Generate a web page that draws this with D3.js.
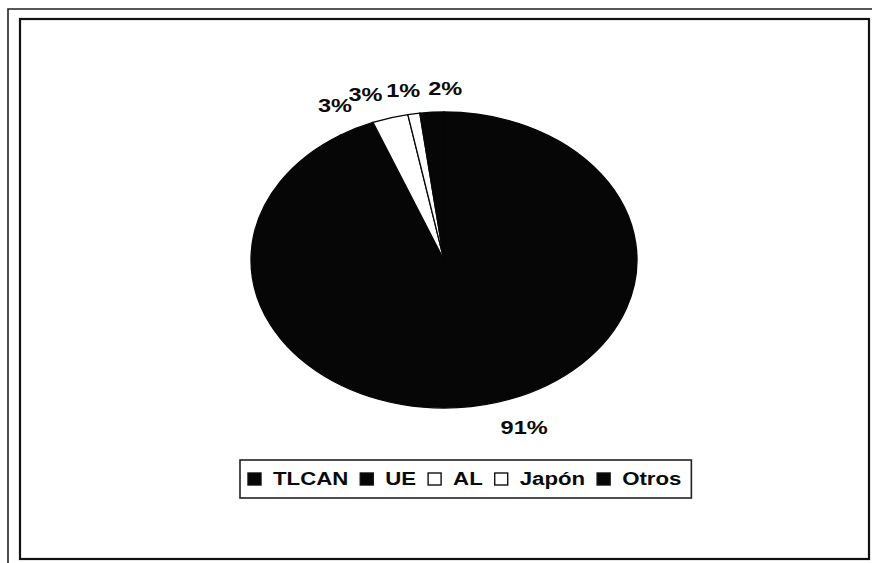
<!DOCTYPE html>
<html>
<head>
<meta charset="utf-8">
<script src="https://cdn.jsdelivr.net/npm/d3@7"></script>
<style>
  html, body { margin: 0; padding: 0; background: #fff; }
  svg { display: block; }
  text { font-family: "Liberation Sans", Arial, sans-serif; font-weight: bold; fill: #0a0a0a; }
</style>
</head>
<body>
<script>
// Destino de las exportaciones (participación %)
const categories = ["TLCAN", "UE", "AL", "Japón", "Otros"];
const shares = [91, 3, 3, 1, 2];
const shareLabels = ["91%", "3%", "3%", "1%", "2%"];

// Presentation
const sliceFill = ["#060606", "#060606", "#ffffff", "#ffffff", "#060606"];
const labelNudge = [0, 0, -5, 8, -3];

const W = 872, H = 563;
const cx = 444, cy = 260, rx = 193, ry = 148;
const textStretch = 1.24;

const svg = d3.select("body").append("svg")
  .attr("width", W).attr("height", H);

// outer sheet line and chart frame
svg.append("path")
  .attr("d", d3.line()([[8, H], [8, 9], [W, 9]]))
  .attr("fill", "none").attr("stroke", "#222").attr("stroke-width", 1.6);
svg.append("rect")
  .attr("x", 20).attr("y", 19).attr("width", 849).attr("height", 540)
  .attr("fill", "#fff").attr("stroke", "#111").attr("stroke-width", 2.2);

// pie, drawn as an ellipse
const pie = d3.pie().sort(null).value(d => d);
const arcs = pie(shares);
const arc = d3.arc().innerRadius(0).outerRadius(ry);

const pieG = svg.append("g")
  .attr("transform", `translate(${cx},${cy}) scale(${rx / ry},1)`);
pieG.selectAll("path.slice")
  .data(arcs)
  .join("path")
  .attr("class", "slice")
  .attr("d", arc)
  .attr("fill", (d, i) => sliceFill[i])
  .attr("stroke", "#060606")
  .attr("stroke-width", 1.3)
  .attr("vector-effect", "non-scaling-stroke");

// percentage labels outside each slice
const labelG = svg.append("g");
arcs.forEach((a, i) => {
  const mid = (a.startAngle + a.endAngle) / 2;
  const s = Math.sin(mid), c = Math.cos(mid);
  const ax = cx + rx * 1.05 * s + labelNudge[i];
  const ay = cy - ry * 1.05 * c;
  const top = c > 0;
  const anchor = s > -0.1 ? "start" : "end";
  const by = top ? ay - 10 : ay + 25;
  labelG.append("text")
    .attr("transform", `translate(${ax},${by}) scale(${textStretch},1)`)
    .attr("text-anchor", anchor)
    .attr("font-size", 19)
    .text(shareLabels[i]);
});

// legend
const legX = 240, legY = 460, legH = 38;
const legG = svg.append("g");
const legBox = legG.append("rect")
  .attr("x", legX).attr("y", legY).attr("height", legH)
  .attr("fill", "#fff").attr("stroke", "#222").attr("stroke-width", 1.6);

const legendStretch = 1.17;
let x = legX + 8;
categories.forEach((name, i) => {
  legG.append("rect")
    .attr("x", x).attr("y", legY + 13).attr("width", 13).attr("height", 12)
    .attr("fill", sliceFill[i]).attr("stroke", "#111").attr("stroke-width", 1.4);
  x += 13 + 12;
  const t = legG.append("text")
    .attr("transform", `translate(${x},${legY + 25}) scale(${legendStretch},1)`)
    .attr("font-size", 19)
    .text(name);
  x += t.node().getComputedTextLength() * legendStretch + 12;
});
legBox.attr("width", x - legX - 2);
</script>
</body>
</html>
